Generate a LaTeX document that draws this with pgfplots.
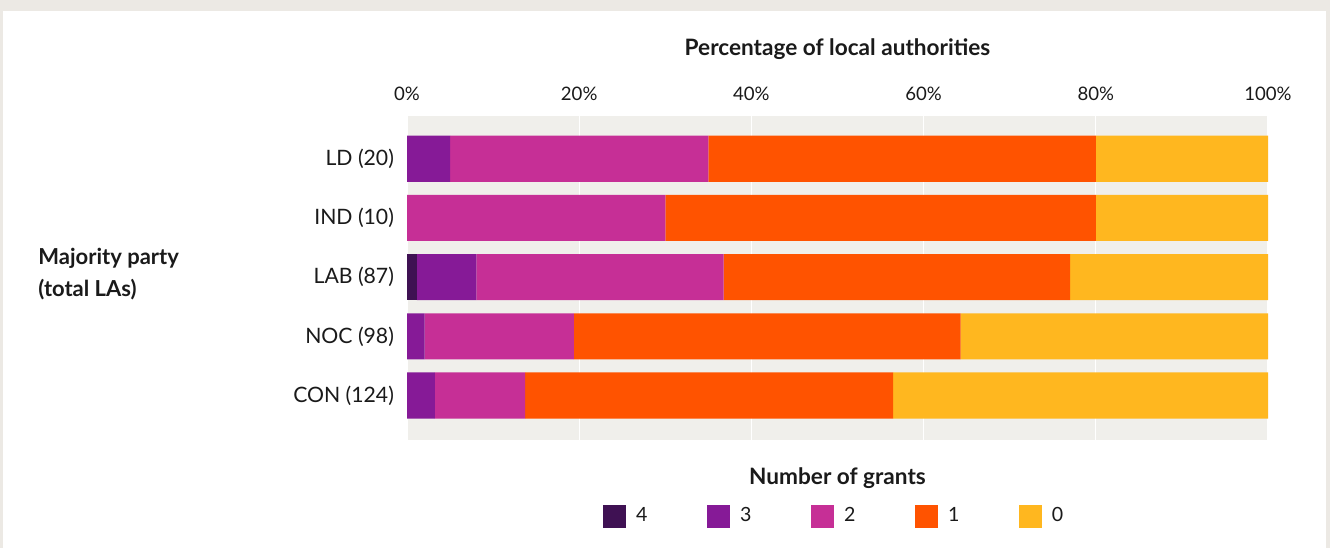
\documentclass[border=0pt]{standalone}
\usepackage{pgfplots}
\pgfplotsset{compat=1.18}
\usepackage{fontspec}
\setmainfont{Lato}
\definecolor{frame}{HTML}{ECE9E4}
\definecolor{plotbg}{HTML}{F0EFEB}
\definecolor{cfour}{HTML}{3F1153}
\definecolor{cthree}{HTML}{861A97}
\definecolor{ctwo}{HTML}{C62F96}
\definecolor{cone}{HTML}{FF5300}
\definecolor{czero}{HTML}{FFB71F}
\definecolor{txt}{HTML}{1A1A1A}
\begin{document}
\begin{tikzpicture}
\fill[frame] (0,0) rectangle (665pt,274pt);
\fill[white] (1.5pt,0) rectangle (663pt,268.5pt);
\begin{axis}[
  at={(203.5pt,54pt)}, anchor=south west,
  scale only axis, width=430.5pt, height=162pt,
  xbar stacked, bar width=0.78,
  xmin=0, xmax=100, ymin=-0.72, ymax=4.75, y dir=reverse,
  axis background/.style={fill=plotbg},
  axis line style={draw=none},
  major tick length=0pt,
  xtick={0,20,40,60,80,100},
  xticklabel pos=upper,
  xticklabel={\pgfmathprintnumber{\tick}\%},
  xmajorgrids, grid style={white, line width=0.6pt},
  ytick={0,1,2,3,4},
  yticklabels={LD (20),IND (10),LAB (87),NOC (98),CON (124)},
  /pgf/number format/assume math mode=true,
  xticklabel style={font=\fontsize{9.3pt}{11pt}\selectfont, text=txt, yshift=4pt},
  yticklabel style={font=\fontsize{10.6pt}{12pt}\selectfont, text=txt, xshift=-3pt},
  legend columns=5,
  legend style={at={(0.5,-0.2346)}, anchor=center, draw=none, fill=none,
    font=\fontsize{9.8pt}{11pt}\selectfont, text=txt,
    nodes={inner xsep=0pt, text width=10pt, align=left},
    /tikz/every odd column/.append style={column sep=5pt},
    /tikz/every even column/.append style={column sep=25.5pt}},
  legend image code/.code={\fill[#1] (0pt,-5.75pt) rectangle (11.5pt,5.75pt);},
  every axis plot/.append style={draw=none},
]
\addplot[fill=cfour] coordinates {(0,0) (0,1) (1.149,2) (0,3) (0,4)};
\addplot[fill=cthree] coordinates {(5,0) (0,1) (6.897,2) (2.041,3) (3.226,4)};
\addplot[fill=ctwo] coordinates {(30,0) (30,1) (28.736,2) (17.347,3) (10.484,4)};
\addplot[fill=cone] coordinates {(45,0) (50,1) (40.230,2) (44.898,3) (42.742,4)};
\addplot[fill=czero] coordinates {(20,0) (20,1) (22.989,2) (35.714,3) (43.548,4)};
\legend{4,3,2,1,0}
\end{axis}
\node[font=\bfseries\fontsize{11.3pt}{13pt}\selectfont, text=txt] at (418.75pt,249.5pt) {Percentage of local authorities};
\node[font=\bfseries\fontsize{11.3pt}{13pt}\selectfont, text=txt] at (418.75pt,35pt) {Number of grants};
\node[font=\bfseries\fontsize{11pt}{13pt}\selectfont, text=txt, anchor=west, align=left, inner sep=0pt] at (19pt,137pt) {Majority party\\[3pt](total LAs)};
\end{tikzpicture}
\end{document}
